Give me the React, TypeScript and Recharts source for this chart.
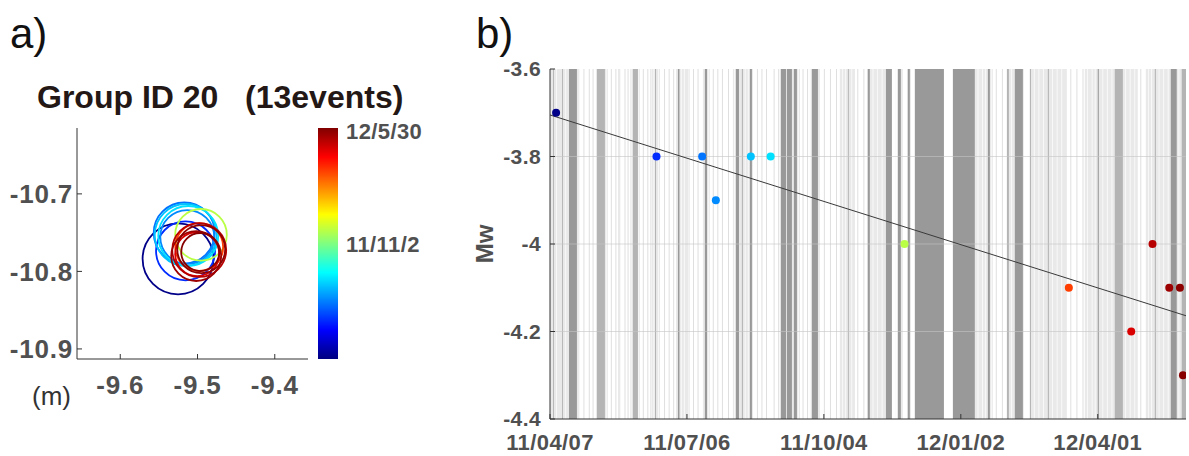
import React from 'react'
import * as R from 'recharts'
import {
    ComposedChart,
    ScatterChart,
    BarChart,
    Scatter,
    Line,
    Bar,
    XAxis,
    YAxis,
    ReferenceArea,
    ReferenceLine,
} from 'recharts'

// events, day 0 = 2011-04-07
const eventDay = [4, 70, 100, 109, 132, 145, 233, 341, 382, 396, 407, 414, 416]
const eventMw = [-3.7, -3.8, -3.8, -3.9, -3.8, -3.8, -4.0, -4.1, -4.2, -4.0, -4.1, -4.1, -4.3]
// source location (m) and radius (m) for panel a
const eventEast = [-9.5252, -9.5155, -9.5172, -9.5133, -9.5153, -9.512, -9.4955, -9.4978, -9.5004, -9.4978, -9.5017, -9.4952, -9.4965]
const eventNorth = [-10.7838, -10.7735, -10.7505, -10.7556, -10.753, -10.7543, -10.7528, -10.7686, -10.7776, -10.7724, -10.7802, -10.7712, -10.775]
const eventRadius = [0.0459, 0.0382, 0.0395, 0.0349, 0.0401, 0.0388, 0.0334, 0.031, 0.0285, 0.0349, 0.0323, 0.031, 0.0246]

const trendDay = [0, 418]
const trendMw = [-3.705, -4.164]

const timeTicks = [0, 90, 180, 270, 360]
const timeLabels = ['11/04/07', '11/07/06', '11/10/04', '12/01/02', '12/04/01']
const mwTicks = [-4.4, -4.2, -4, -3.8, -3.6]

const eastTicks = [-9.6, -9.5, -9.4]
const northTicks = [-10.9, -10.8, -10.7]

const colorTicks = [0, 209, 419]
const colorLabels = ['11/4/7', '11/11/2', '12/5/30']

// observation coverage strips (days)
const darkBands = [
    [12.5, 17.7], [84.1, 85.1], [101.8, 103.2], [122.2, 124.2], [131.4, 132.7],
    [151.8, 155.1], [155.7, 159.0], [160.3, 162.3], [172.1, 176.1], [208.9, 210.2],
    [220.8, 224.7], [228.6, 230.6], [235.2, 236.5], [239.8, 258.9], [264.8, 279.2],
    [287.8, 289.1], [305.5, 310.8], [360.0, 360.7], [408.0, 411.9],
]
const midBands = [
    [30.9, 36.1], [54.5, 57.8], [69.0, 69.7], [300.3, 301.6], [315.4, 316.1],
    [327.2, 327.9], [371.2, 376.5], [397.5, 398.2], [415.2, 418], [2.0, 2.6],
    [7.9, 8.5], [126.1, 126.8], [195.8, 196.4],
]
const whiteGaps = [
    [19.7, 30.2], [38.1, 44.7], [46.6, 52.6], [59.1, 67.0], [72.3, 82.8],
    [92.0, 100.5], [105.1, 120.2], [133.4, 151.1], [164.3, 170.8], [177.4, 190.5],
    [200.4, 208.3], [224.7, 228.6], [231.9, 234.6], [237.2, 239.8], [258.9, 264.8],
    [291.1, 300.3], [311.4, 315.4], [339.7, 351.5], [386.3, 391.6],
]
const paleLines = [
    22, 25.5, 28, 40, 43, 49, 51, 61, 64, 66, 75, 78, 81, 94, 97, 107, 110, 113, 117,
    136, 139, 142, 147, 150, 166, 169, 180, 184, 188, 202, 206, 293, 297, 342, 346, 350, 388,
]
const whiteLines = [
    4, 10, 19, 37, 46, 53, 58, 68, 71, 86, 88, 91, 104, 121, 128, 130, 163, 171, 192, 194,
    198, 212, 215, 218, 227, 281, 284, 286, 290, 303, 318, 321, 324, 330, 333, 336, 353,
    356, 358, 363, 366, 369, 378, 381, 384, 393, 395, 400, 403, 406, 413,
]

const TIME_SPAN = 419
const eastDomain = [-9.656, -9.357]
const northDomain = [-10.913, -10.615]

const FONT = 'Liberation Sans, Arial, Helvetica, sans-serif'
const TICK_GREY = '#505050'
const AXIS = '#333333'

const jet = (t: number) => {
    const c = (v: number) => Math.round(255 * Math.max(0, Math.min(1, v)))
    const r = Math.min(4 * t - 1.5, -4 * t + 4.5)
    const g = Math.min(4 * t - 0.5, -4 * t + 3.5)
    const b = Math.min(4 * t + 0.5, -4 * t + 2.5)
    return `rgb(${c(r)},${c(g)},${c(b)})`
}

const events = eventDay.map((d, i) => ({
    day: d,
    mw: eventMw[i],
    east: eventEast[i],
    north: eventNorth[i],
    radius: eventRadius[i],
    color: jet(d / TIME_SPAN),
}))
const trendData = trendDay.map((d, i) => ({ day: d, mw: trendMw[i] }))
const colorBarData = [{ k: 'c', span: TIME_SPAN }]

const usePlotAreaSafe: () => any = (R as any).usePlotArea || (() => null)

const RingShape = (props: any) => {
    const area = usePlotAreaSafe()
    const w = area && area.width ? area.width : 231
    const pxPerM = w / (eastDomain[1] - eastDomain[0])
    const { cx, cy, payload } = props
    if (cx == null || cy == null) return null
    return <circle cx={cx} cy={cy} r={payload.radius * pxPerM} fill="none" stroke={payload.color} strokeWidth={1.8} />
}

const DotShape = (props: any) => {
    const { cx, cy, payload } = props
    if (cx == null || cy == null) return null
    return <circle cx={cx} cy={cy} r={4} fill={payload.color} />
}

const tickFont = (size: number, spacing = 0) => ({
    fill: TICK_GREY, fontSize: size, fontWeight: 700, fontFamily: FONT, letterSpacing: spacing,
})

function LocationPanel() {
    return (
        <ScatterChart width={310} height={456} margin={{ top: 128, right: 2, bottom: 37, left: 0 }}>
            <Scatter data={events} dataKey="north" shape={<RingShape />} isAnimationActive={false} />
            <XAxis
                type="number"
                dataKey="east"
                domain={eastDomain}
                ticks={eastTicks}
                allowDataOverflow
                height={60}
                stroke={AXIS}
                tickSize={-5}
                tickMargin={22}
                tick={tickFont(26, 0.8)}
            />
            <YAxis
                type="number"
                dataKey="north"
                domain={northDomain}
                ticks={northTicks}
                allowDataOverflow
                width={77}
                stroke={AXIS}
                tickSize={-5}
                tickMargin={9}
                tick={tickFont(26, 0.8)}
            />
            <XAxis xAxisId="top" orientation="top" type="number" domain={eastDomain} ticks={eastTicks}
                allowDataOverflow height={0} stroke={AXIS} tickSize={-5} tick={false} />
            <YAxis yAxisId="right" orientation="right" type="number" domain={northDomain} ticks={northTicks}
                allowDataOverflow width={0} stroke={AXIS} tickSize={-5} tick={false} />
        </ScatterChart>
    )
}

function ColorBar() {
    return (
        <BarChart width={110} height={251} data={colorBarData} margin={{ top: 10, right: 0, bottom: 10, left: 0 }}
            barCategoryGap={0}>
            <defs>
                <linearGradient id="jetGrad" x1="0" y1="1" x2="0" y2="0">
                    <stop offset="0" stopColor={jet(0)} />
                    <stop offset="0.125" stopColor={jet(0.125)} />
                    <stop offset="0.375" stopColor={jet(0.375)} />
                    <stop offset="0.625" stopColor={jet(0.625)} />
                    <stop offset="0.875" stopColor={jet(0.875)} />
                    <stop offset="1" stopColor={jet(1)} />
                </linearGradient>
            </defs>
            <XAxis dataKey="k" hide />
            <YAxis
                orientation="right"
                type="number"
                domain={[0, TIME_SPAN]}
                ticks={colorTicks}
                allowDataOverflow
                width={90}
                axisLine={false}
                tickLine={false}
                tickSize={0}
                tickMargin={8}
                tick={tickFont(22, 0.4)}
                tickFormatter={(v: number) => colorLabels[colorTicks.indexOf(v)] ?? ''}
            />
            <Bar dataKey="span" fill="url(#jetGrad)" isAnimationActive={false} />
        </BarChart>
    )
}

const strip = (list: number[][], fill: string, key: string) =>
    list.map(([a, b], i) => (
        <ReferenceArea key={key + i} x1={a} x2={b} fill={fill} fillOpacity={1} stroke="none" ifOverflow="hidden" />
    ))

function MagnitudePanel() {
    return (
        <ComposedChart width={729} height={456} margin={{ top: 69, right: 3, bottom: 0, left: 0 }}>
            <ReferenceArea x1={0} x2={418} fill="#e9e9e9" fillOpacity={1} stroke="none" />
            {strip(whiteGaps, '#ffffff', 'w')}
            {strip(paleLines.map(d => [d, d + 0.6]), '#dcdcdc', 'p')}
            {strip(whiteLines.map(d => [d, d + 0.6]), '#fafafa', 'l')}
            {strip(midBands, '#b4b4b4', 'm')}
            {strip(darkBands, '#999999', 'd')}
            {[-4.2, -4, -3.8].map(v => (
                <ReferenceLine key={v} y={v} stroke="#c4c4c4" strokeOpacity={0.6} strokeWidth={1} />
            ))}
            <Line data={trendData} dataKey="mw" stroke="#3a3a3a" strokeWidth={1} dot={false}
                activeDot={false} isAnimationActive={false} />
            <Scatter data={events} dataKey="mw" shape={DotShape} isAnimationActive={false} />
            <XAxis
                type="number"
                dataKey="day"
                domain={[0, 418]}
                ticks={timeTicks}
                allowDataOverflow
                height={37}
                stroke={AXIS}
                tickSize={-5}
                tickMargin={20}
                tick={tickFont(22, 0.4)}
                tickFormatter={(v: number) => timeLabels[timeTicks.indexOf(v)] ?? ''}
            />
            <YAxis
                type="number"
                dataKey="mw"
                domain={[-4.4, -3.6]}
                ticks={mwTicks}
                allowDataOverflow
                width={90}
                stroke={AXIS}
                tickSize={-5}
                tickMargin={14}
                tick={tickFont(21, 0.4)}
            />
            <XAxis xAxisId="top" orientation="top" type="number" domain={[0, 418]} ticks={timeTicks}
                allowDataOverflow height={0} stroke={AXIS} tickSize={-5} tick={false} />
            <YAxis yAxisId="right" orientation="right" type="number" domain={[-4.4, -3.6]} ticks={mwTicks}
                allowDataOverflow width={0} stroke={AXIS} tickSize={-5} tick={false} />
        </ComposedChart>
    )
}

export default function App() {
    return (
        <div style={{ position: 'absolute', left: 0, top: 0, width: 1189, height: 456, background: '#fff', overflow: 'hidden' }}>
            <div style={{ position: 'absolute', left: 0, top: 0 }}>
                <LocationPanel />
            </div>
            <div style={{ position: 'absolute', left: 318, top: 118 }}>
                <ColorBar />
            </div>
            <div style={{ position: 'absolute', left: 460, top: 0 }}>
                <MagnitudePanel />
            </div>
            <svg width={1189} height={456} style={{ position: 'absolute', left: 0, top: 0, pointerEvents: 'none' }}
                fontFamily={FONT}>
                <text x={10} y={48} fontSize={42} fill="#111">a)</text>
                <text x={476} y={48} fontSize={42} fill="#111">b)</text>
                <text x={37} y={108} fontSize={32} fontWeight={700} fill="#231815" style={{ whiteSpace: 'pre' }}>
                    {'Group ID 20   (13events)'}
                </text>
                <text x={32} y={405} fontSize={26} fill="#333">(m)</text>
                <text x={484} y={244} fontSize={24} fontWeight={700} fill={TICK_GREY} textAnchor="middle"
                    dominantBaseline="central" transform="rotate(-90 484 244)">Mw</text>
            </svg>
        </div>
    )
}
